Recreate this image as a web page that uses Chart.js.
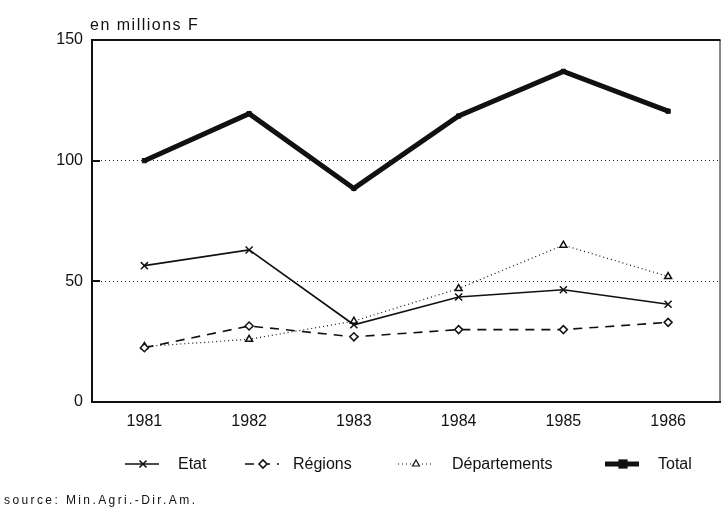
<!DOCTYPE html>
<html><head><meta charset="utf-8">
<script src="https://cdn.jsdelivr.net/npm/chart.js@4/dist/chart.umd.min.js"></script>
<style>html,body{margin:0;padding:0;background:#fff}#wrap{width:727px;height:512px;position:relative}</style>
</head><body><div id="wrap"><canvas id="c" width="727" height="512"></canvas></div>
<script>
const years = ['1981','1982','1983','1984','1985','1986'];
const etat = [56.5, 63, 32, 43.5, 46.5, 40.5];
const regions = [22.5, 31.5, 27, 30, 30, 33];
const departements = [23, 26, 33.5, 47, 65, 52];
const total = [100, 119.5, 88.5, 118.5, 137, 120.5];
const yTicks = [0, 50, 100, 150];
const gridValues = [50, 100];
const unitLabel = 'en millions F';
const sourceLabel = 'source: Min.Agri.-Dir.Am.';

const FONT = '"Liberation Sans", Arial, sans-serif';
const INK = '#111';

const extras = {
  id: 'extras',
  beforeDatasetsDraw(chart) {
    const {ctx, chartArea: a, scales} = chart;
    ctx.save();
    ctx.strokeStyle = INK;
    ctx.lineWidth = 2;
    ctx.beginPath(); ctx.moveTo(a.left, a.top); ctx.lineTo(a.right, a.top); ctx.stroke();
    ctx.lineWidth = 1;
    ctx.beginPath(); ctx.moveTo(a.right - 0.5, a.top); ctx.lineTo(a.right - 0.5, a.bottom); ctx.stroke();
    // inward y ticks
    ctx.lineWidth = 2;
    yTicks.forEach(v => {
      const y = Math.round(scales.y.getPixelForValue(v));
      ctx.beginPath(); ctx.moveTo(a.left, y); ctx.lineTo(a.left + 8, y); ctx.stroke();
    });
    ctx.restore();
  },
  afterDraw(chart) {
    const {ctx, chartArea: a} = chart;
    ctx.save();
    ctx.fillStyle = INK;
    ctx.textBaseline = 'alphabetic';
    ctx.textAlign = 'left';
    ctx.font = '16px ' + FONT;
    ctx.letterSpacing = '1.5px';
    ctx.fillText(unitLabel, a.left - 2, 30);
    ctx.font = '12px ' + FONT;
    ctx.letterSpacing = '2.4px';
    ctx.fillText(sourceLabel, 4, 504);
    ctx.letterSpacing = '0px';
    // legend
    const pos = [[125, 178], [245, 293], [398, 452], [605, 658]];
    const ly = 464;
    chart.data.datasets.forEach((ds, i) => {
      const [x0, tx] = pos[i];
      ctx.save();
      ctx.strokeStyle = INK;
      ctx.lineWidth = ds.borderWidth;
      ctx.setLineDash(ds.borderDash || []);
      ctx.beginPath(); ctx.moveTo(x0, ly); ctx.lineTo(x0 + 34, ly); ctx.stroke();
      ctx.setLineDash([]);
      ctx.fillStyle = ds.backgroundColor;
      ctx.strokeStyle = INK;
      Chart.helpers.drawPoint(ctx, {pointStyle: ds.pointStyle, radius: ds.pointRadius, borderWidth: 1.5}, x0 + 18, ly);
      ctx.restore();
      ctx.fillStyle = INK;
      ctx.font = '16px ' + FONT;
      ctx.textBaseline = 'middle';
      ctx.fillText(ds.label, tx, ly + 1);
    });
    ctx.restore();
  }
};

new Chart(document.getElementById('c'), {
  type: 'line',
  data: {
    labels: years,
    datasets: [
      {label: 'Etat', data: etat, borderColor: INK, backgroundColor: INK, borderWidth: 1.6, pointStyle: 'crossRot', pointRadius: 5, pointBorderWidth: 1.5, tension: 0},
      {label: 'Régions', data: regions, borderColor: INK, backgroundColor: '#fff', borderWidth: 1.6, borderDash: [9, 7], pointStyle: 'rectRot', pointRadius: 4, pointBorderWidth: 1.5, tension: 0},
      {label: 'Départements', data: departements, borderColor: INK, backgroundColor: '#fff', borderWidth: 1.2, borderDash: [1, 3], pointStyle: 'triangle', pointRadius: 4, pointBorderWidth: 1.5, tension: 0},
      {label: 'Total', data: total, borderColor: INK, backgroundColor: INK, borderWidth: 5, pointStyle: 'rect', pointRadius: 3, pointBorderWidth: 1, tension: 0}
    ]
  },
  options: {
    responsive: false,
    animation: false,
    devicePixelRatio: 1,
    layout: {padding: {top: 40, left: 0, right: 1, bottom: 80}},
    plugins: {legend: {display: false}, tooltip: {enabled: false}},
    scales: {
      x: {
        offset: true,
        grid: {display: false, drawTicks: false},
        border: {display: true, color: INK, width: 2},
        ticks: {color: INK, font: {family: FONT, size: 16}, padding: 10, maxRotation: 0},
        afterFit(s) { s.height = 30; }
      },
      y: {
        min: 0, max: 150,
        afterBuildTicks(s) { s.ticks = yTicks.map(v => ({value: v})); },
        grid: {
          color: c => (c.tick && gridValues.includes(c.tick.value)) ? '#222' : 'rgba(0,0,0,0)',
          lineWidth: 1,
          drawTicks: false
        },
        border: {display: true, color: INK, width: 2, dash: [1, 3]},
        ticks: {color: INK, font: {family: FONT, size: 16}, padding: 9},
        afterFit(s) { s.width = 92; }
      }
    }
  },
  plugins: [extras]
});
</script>
</body></html>
